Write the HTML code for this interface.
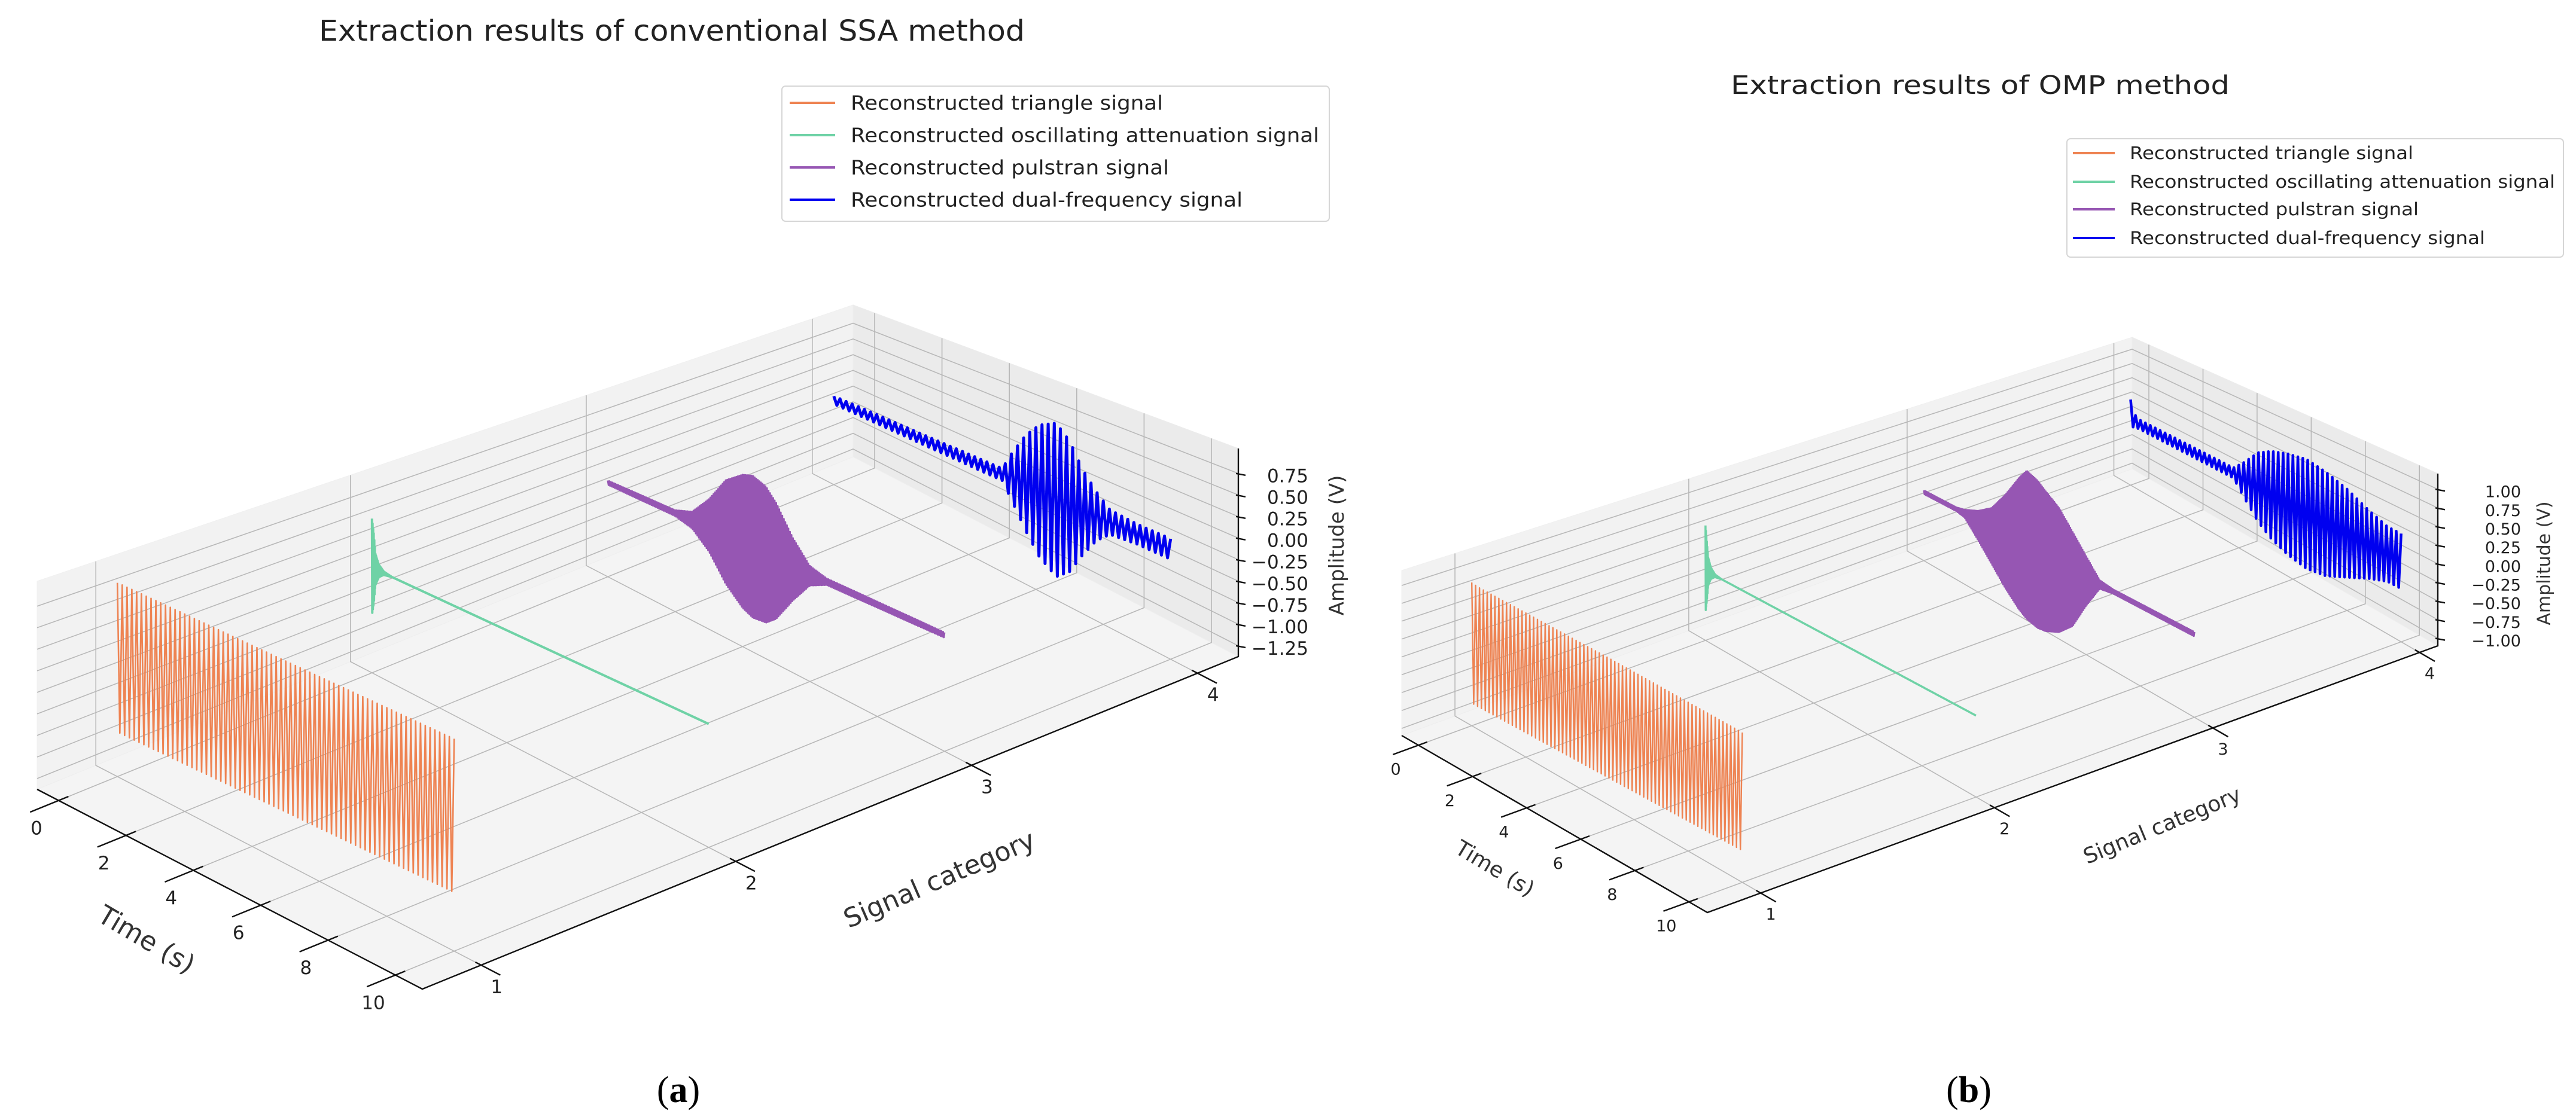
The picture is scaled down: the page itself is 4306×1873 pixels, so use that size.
<!DOCTYPE html>
<html><head><meta charset="utf-8"><style>
html,body{margin:0;padding:0;background:#fff;}
svg{display:block;font-family:"DejaVu Sans","Liberation Sans",sans-serif;}
</style></head><body>
<svg id="fig" width="4306" height="1873" viewBox="0 0 4306 1873" xmlns="http://www.w3.org/2000/svg">
<text x="1123" y="68" font-size="48" fill="#222" text-anchor="middle" textLength="1180" lengthAdjust="spacingAndGlyphs">Extraction results of conventional SSA method</text>
<text x="3310" y="157" font-size="43" fill="#222" text-anchor="middle" textLength="834" lengthAdjust="spacingAndGlyphs">Extraction results of OMP method</text>
<text x="1134" y="1843" font-size="62" fill="#000" text-anchor="middle" font-family="Liberation Serif, serif">(<tspan font-weight="bold">a</tspan>)</text>
<text x="3291" y="1843" font-size="62" fill="#000" text-anchor="middle" font-family="Liberation Serif, serif">(<tspan font-weight="bold">b</tspan>)</text>
<g id="panelA"></g>
<g id="panelB"></g>
</svg>
<script>
// ---- data ----
const timeTicks = [0, 2, 4, 6, 8, 10];
const catTicks = [1, 2, 3, 4];
const zTicksA = [0.75, 0.5, 0.25, 0, -0.25, -0.5, -0.75, -1.0, -1.25];
const zTicksB = [1.0, 0.75, 0.5, 0.25, 0, -0.25, -0.5, -0.75, -1.0];
const seriesNames = ["Reconstructed triangle signal", "Reconstructed oscillating attenuation signal", "Reconstructed pulstran signal", "Reconstructed dual-frequency signal"];
const seriesCats = [1, 2, 3, 4];
const seriesCycles = [70, 600, 220, 55];

// panel (a) envelopes: times, upper and lower levels (V)
const triT_A = [0, 0.05, 0.2, 5, 9.8, 9.95, 10];
const triHi_A = [0.9, 0.9, 0.9, 0.87, 0.85, 0.85, 0.85];
const triLo_A = [-1.35, -0.85, -0.85, -0.8, -0.76, -0.76, -1.35];
const attT_A = [0, 0.05, 0.1, 0.2, 0.35, 0.6, 10];
const attHi_A = [0.63, 0.45, 0.2, 0.08, 0.02, 0.0, 0.0];
const attLo_A = [-0.6, -0.45, -0.2, -0.08, -0.02, 0.0, 0.0];
const attBase_A = -0.03;
const pulT_A = [0, 2, 2.5, 3, 3.5, 4, 4.3, 4.7, 5, 5.5, 6, 6.5, 10];
const pulHi_A = [0.03, 0.04, 0.12, 0.38, 0.72, 0.88, 0.92, 0.85, 0.7, 0.35, 0.1, 0.04, 0.03];
const pulLo_A = [-0.03, -0.04, -0.1, -0.3, -0.62, -0.82, -0.88, -0.86, -0.75, -0.42, -0.14, -0.04, -0.03];
const pulBase_A = -0.06;
const dualT_A = [0, 5, 5.3, 5.7, 6.1, 6.6, 7.0, 7.4, 7.8, 8.2, 9, 10];
const dualHi_A = [0.06, 0.08, 0.35, 0.65, 0.85, 0.96, 0.8, 0.5, 0.3, 0.15, 0.12, 0.12];
const dualLo_A = [-0.06, -0.08, -0.3, -0.6, -0.85, -1.0, -0.85, -0.55, -0.3, -0.15, -0.12, -0.12];
const dualBase_A = -0.08;

// panel (b)
const triT_B = [0, 0.05, 0.2, 5, 10];
const triHi_B = [0.92, 0.92, 0.9, 0.85, 0.78];
const triLo_B = [-0.2, -0.78, -0.78, -0.74, -0.7];
const attT_B = [0, 0.05, 0.1, 0.2, 0.35, 0.6, 10];
const attHi_B = [0.68, 0.45, 0.22, 0.09, 0.02, 0.0, 0.0];
const attLo_B = [-0.62, -0.45, -0.2, -0.08, -0.02, 0.0, 0.0];
const attBase_B = -0.05;
const pulT_B = [0, 1.2, 1.5, 2, 2.5, 3, 3.5, 3.8, 4.2, 4.5, 5, 5.5, 6, 6.5, 7, 10];
const pulHi_B = [0.03, 0.03, 0.06, 0.15, 0.3, 0.6, 0.95, 1.12, 1.05, 0.95, 0.8, 0.55, 0.3, 0.06, 0.03, 0.03];
const pulLo_B = [-0.03, -0.03, -0.06, -0.3, -0.55, -0.8, -1.0, -1.08, -1.12, -1.1, -1.0, -0.8, -0.4, -0.06, -0.03, -0.03];
const pulBase_B = 0.0;
const dualT_B = [0, 0.1, 0.3, 3.8, 4.2, 4.7, 5.2, 5.8, 6.5, 7.2, 8, 8.8, 9.5, 10];
const dualHi_B = [0.35, 0.15, 0.08, 0.08, 0.25, 0.5, 0.62, 0.7, 0.75, 0.7, 0.6, 0.45, 0.35, 0.35];
const dualLo_B = [-0.12, -0.1, -0.08, -0.08, -0.3, -0.55, -0.7, -0.8, -0.85, -0.8, -0.65, -0.5, -0.4, -0.4];
const dualBase_B = 0.02;

const COLORS = ["#ee8352", "#6fd2a6", "#9656b3", "#0000f0"];

// ---- geometry ----
const geomA = {
  FL:[62,1320], F:[706,1654], R:[2070,1098], B:[1426,764],
  hFL:348, hF:392, hR:348, hB:254,
  tmin:-0.64, tmax:10.8, zmin:-1.375, zmax:1.04,
  catFr:[0.072,0.384,0.673,0.95], zTicks:zTicksA,
  tLabOff:[-37,46], cLabOff:[26,36], zLabX:2187, fs:31,
  timeLab:[245,1571,30.5,44], catLab:[1570,1470,-23.5,44], ampLab:[2234,912,34],
  legend:{x:1307,y:144,w:915,h:226,ys:[172,226,280,334],lx:[1320,1396],tx:1422,fs:33,lens:[522,783,532,655]}
};
const geomB = {
  FL:[2343,1230], F:[2854,1526], R:[4075,1080], B:[3564,784],
  hFL:276, hF:312, hR:288, hB:220,
  tmin:-0.62, tmax:10.68, zmin:-1.1, zmax:1.21,
  catFr:[0.073,0.393,0.692,0.975], zTicks:zTicksB,
  tLabOff:[-38,40], cLabOff:[17,35], zLabX:4214, fs:27,
  timeLab:[2499,1452,31,36], catLab:[3614,1380,-22.5,36], ampLab:[4252,942,30],
  legend:{x:3455,y:232,w:830,h:198,ys:[256,304,350,398],lx:[3465,3535],tx:3560,fs:29,lens:[474,711,483,594]}
};

const NS = "http://www.w3.org/2000/svg";
function mk(tag, attrs, parent) {
  const e = document.createElementNS(NS, tag);
  for (const k in attrs) e.setAttribute(k, attrs[k]);
  parent.appendChild(e);
  return e;
}
function interp(xs, ys, x) {
  if (x <= xs[0]) return ys[0];
  for (let i = 1; i < xs.length; i++) {
    if (x <= xs[i]) { const f = (x - xs[i-1]) / (xs[i] - xs[i-1]); return ys[i-1] + f * (ys[i] - ys[i-1]); }
  }
  return ys[ys.length - 1];
}
function uOf(g, t) { return (t - g.tmin) / (g.tmax - g.tmin); }
function vOf(g, c) {
  const f = g.catFr;
  if (c <= 1) return f[0] - (1 - c) * (f[1] - f[0]);
  if (c >= 4) return f[3] + (c - 4) * (f[3] - f[2]);
  const i = Math.floor(c) - 1; const fr = c - Math.floor(c);
  return f[i] + fr * (f[i+1] - f[i]);
}
function projUV(g, u, v, z) {
  const x = g.FL[0]*(1-u)*(1-v) + g.F[0]*u*(1-v) + g.R[0]*u*v + g.B[0]*(1-u)*v;
  const y = g.FL[1]*(1-u)*(1-v) + g.F[1]*u*(1-v) + g.R[1]*u*v + g.B[1]*(1-u)*v;
  const h = g.hFL*(1-u)*(1-v) + g.hF*u*(1-v) + g.hR*u*v + g.hB*(1-u)*v;
  return [x, y - h * (z - g.zmin) / (g.zmax - g.zmin)];
}
function proj(g, t, c, z) { return projUV(g, uOf(g, t), vOf(g, c), z); }
function pts(a) { return a.map(p => p[0].toFixed(1) + "," + p[1].toFixed(1)).join(" "); }

function drawPanel(root, g, series) {
  const zl = g.zmin, zh = g.zmax;
  const wallBack = mk("polygon", {points: pts([projUV(g,0,0,zl),projUV(g,0,1,zl),projUV(g,0,1,zh),projUV(g,0,0,zh)]), fill:"#f2f2f2", stroke:"#f0f0f0"}, root);
  
  
  const wallRight = mk("polygon", {points: pts([projUV(g,0,1,zl),projUV(g,1,1,zl),projUV(g,1,1,zh),projUV(g,0,1,zh)]), fill:"#ebebeb", stroke:"#ececec"}, root);
  
  
  const floor = mk("polygon", {points: pts([projUV(g,0,0,zl),projUV(g,1,0,zl),projUV(g,1,1,zl),projUV(g,0,1,zl)]), fill:"#f4f4f4", stroke:"#eeeeee"}, root);
  
  
  const grid = mk("g", {stroke:"#b8b8b8", "stroke-width":"1.6", fill:"none"}, root);
  
  
  timeTicks.forEach(t => {
    const u = uOf(g, t);
    mk("polyline", {points: pts([projUV(g,u,0,zl), projUV(g,u,1,zl), projUV(g,u,1,zh)])}, grid);
  });
  catTicks.forEach(c => {
    const v = vOf(g, c);
    mk("polyline", {points: pts([projUV(g,1,v,zl), projUV(g,0,v,zl), projUV(g,0,v,zh)])}, grid);
  });
  g.zTicks.forEach(z => {
    mk("polyline", {points: pts([projUV(g,0,0,z), projUV(g,0,1,z), projUV(g,1,1,z)])}, grid);
  });
  series.forEach((s, i) => {
    const c = seriesCats[i];
    const n = seriesCycles[i] * 2;
    const p = [];
    for (let k = 0; k <= n; k++) {
      const t = 10 * k / n;
      const hi = interp(s.T, s.hi, t), lo = interp(s.T, s.lo, t);
      const z = s.base + (k % 2 === 0 ? hi : lo);
      p.push(proj(g, t, c, z));
    }
    const line = mk("polyline", {points: pts(p), fill:"none", stroke:COLORS[i], "stroke-width": s.w, "stroke-linejoin":"round"}, root);
    
    
  });
  const ax = mk("g", {stroke:"#111", "stroke-width":"2.4", fill:"none"}, root);
  
  
  mk("polyline", {points: pts([projUV(g,0,0,zl), projUV(g,1,0,zl), projUV(g,1,1,zl), projUV(g,1,1,zh)])}, ax);
  const labels = mk("g", {fill:"#222", "font-size": g.fs, "text-anchor":"middle"}, root);
  
  
  timeTicks.forEach(t => {
    const a = projUV(g, uOf(g,t), 0, zl);
    const b = projUV(g, uOf(g,t), -0.035, zl);
    const d = projUV(g, uOf(g,t), 0.012, zl);
    mk("line", {x1:b[0], y1:b[1], x2:d[0], y2:d[1]}, ax);
    const tx = mk("text", {x:a[0]+g.tLabOff[0], y:a[1]+g.tLabOff[1], dy:"0.35em"}, labels);
    tx.textContent = String(t);
    
    
  });
  catTicks.forEach(c => {
    const a = projUV(g, 1, vOf(g,c), zl);
    const b = projUV(g, 1.05, vOf(g,c), zl);
    const d = projUV(g, 0.985, vOf(g,c), zl);
    mk("line", {x1:b[0], y1:b[1], x2:d[0], y2:d[1]}, ax);
    const tx = mk("text", {x:a[0]+g.cLabOff[0], y:a[1]+g.cLabOff[1], dy:"0.35em"}, labels);
    tx.textContent = String(c);
    
    
  });
  g.zTicks.forEach(z => {
    const a = projUV(g, 1, 1, z);
    mk("line", {x1:a[0]-4, y1:a[1], x2:a[0]+12, y2:a[1]+3}, ax);
    const tx = mk("text", {x:g.zLabX, y:a[1]+4, dy:"0.35em", "text-anchor":"end"}, labels);
    tx.textContent = (z < 0 ? "\u2212" : "") + Math.abs(z).toFixed(2);
    
    
  });
  const tl = g.timeLab;
  const tlab = mk("text", {x:tl[0], y:tl[1], "font-size":tl[3], fill:"#333", "text-anchor":"middle", dy:"0.35em", transform:`rotate(${tl[2]} ${tl[0]} ${tl[1]})`}, root);
  tlab.textContent = "Time (s)";
  
  
  const cl = g.catLab;
  const clab = mk("text", {x:cl[0], y:cl[1], "font-size":cl[3], fill:"#333", "text-anchor":"middle", dy:"0.35em", transform:`rotate(${cl[2]} ${cl[0]} ${cl[1]})`}, root);
  clab.textContent = "Signal category";
  
  
  const al = g.ampLab;
  const alab = mk("text", {x:al[0], y:al[1], "font-size":al[2], fill:"#333", "text-anchor":"middle", dy:"0.35em", transform:`rotate(-90 ${al[0]} ${al[1]})`}, root);
  alab.textContent = "Amplitude (V)";
  
  
  const L = g.legend;
  const lg = mk("g", {}, root);
  
  
  mk("rect", {x:L.x, y:L.y, width:L.w, height:L.h, rx:6, fill:"#fff", stroke:"#d6d6d6", "stroke-width":2}, lg);
  seriesNames.forEach((nm, i) => {
    const e = mk("g", {}, lg);
    
    
    mk("line", {x1:L.lx[0], y1:L.ys[i], x2:L.lx[1], y2:L.ys[i], stroke:COLORS[i], "stroke-width":4}, e);
    const tx = mk("text", {x:L.tx, y:L.ys[i], dy:"0.35em", "font-size":L.fs, fill:"#222", textLength:L.lens[i], lengthAdjust:"spacingAndGlyphs"}, e);
    tx.textContent = nm;
  });
}

drawPanel(document.getElementById("panelA"), geomA, [
  {name:"triangle-series", T:triT_A, hi:triHi_A, lo:triLo_A, base:0, w:2.6},
  {name:"attenuation-series", T:attT_A, hi:attHi_A, lo:attLo_A, base:attBase_A, w:4},
  {name:"pulstran-series", T:pulT_A, hi:pulHi_A, lo:pulLo_A, base:pulBase_A, w:3},
  {name:"dual-frequency-series", T:dualT_A, hi:dualHi_A, lo:dualLo_A, base:dualBase_A, w:5}
]);
drawPanel(document.getElementById("panelB"), geomB, [
  {name:"triangle-series", T:triT_B, hi:triHi_B, lo:triLo_B, base:0, w:2.4},
  {name:"attenuation-series", T:attT_B, hi:attHi_B, lo:attLo_B, base:attBase_B, w:3.5},
  {name:"pulstran-series", T:pulT_B, hi:pulHi_B, lo:pulLo_B, base:pulBase_B, w:3},
  {name:"dual-frequency-series", T:dualT_B, hi:dualHi_B, lo:dualLo_B, base:dualBase_B, w:4.5}
]);
</script>
</body></html>
